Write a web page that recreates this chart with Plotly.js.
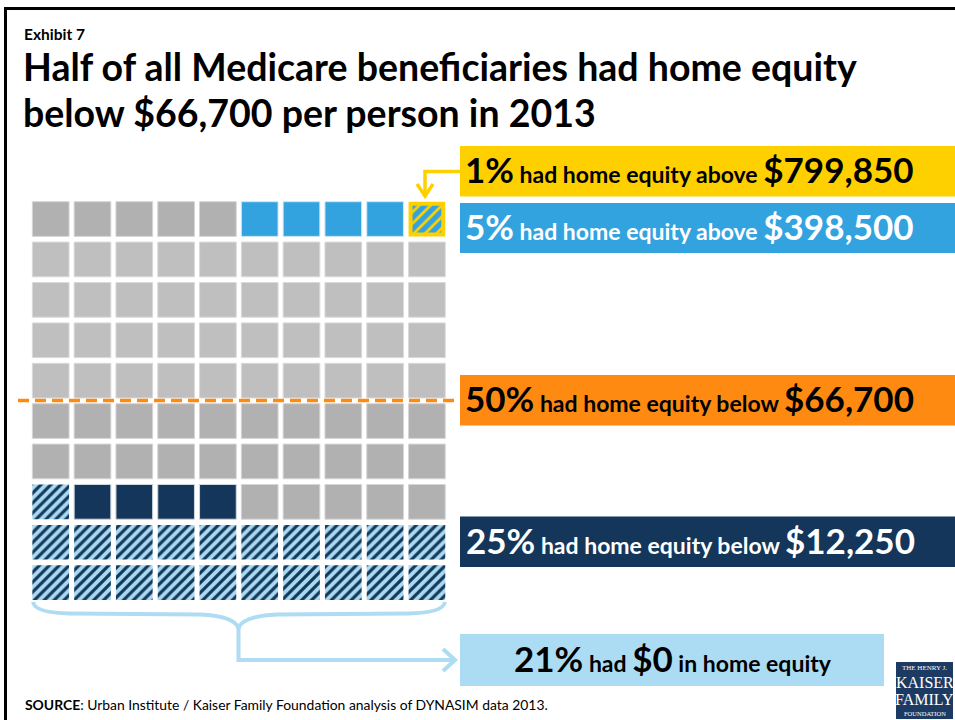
<!DOCTYPE html>
<html>
<head>
<meta charset="utf-8">
<script src="https://cdn.plot.ly/plotly-3.0.1.min.js"></script>
<style>html,body{margin:0;padding:0;background:#fff;}#chart{width:955px;height:720px;}</style>
</head>
<body>
<div id="chart"></div>
<script>
// ---- Data ----
const segmentNames = ["$0 home equity", "Up to $12,250", "$12,250 to $66,700", "$66,700 and up (middle)", "$66,700 and up (upper)", "Above $398,500", "Above $799,850"];
const segmentCounts = [21, 4, 25, 40, 5, 4, 1];   // cells out of 100, filled bottom-left first
const gridColumns = 10;
const gridRows = 10;

const calloutPercents = ["1%", "5%", "50%", "25%", "21%"];
const calloutPhrases = ["had home equity above", "had home equity above", "had home equity below", "had home equity below", "had"];
const calloutAmounts = ["$799,850", "$398,500", "$66,700", "$12,250", "$0"];

// ---- Styles ----
const W = 955, H = 720;
const px = x => x / W;
const py = y => 1 - y / H;
const FONT = "Lato, 'Open Sans', sans-serif";

const segStyles = [
  {color: "#a9daf2", pattern: {shape: "/", fgcolor: "#14375a", bgcolor: "#a9daf2", size: 7, solidity: 0.45, fillmode: "replace"}, line: {width: 0}},
  {color: "#14365a", line: {width: 1, color: "#cfd6dd"}},
  {color: "#b1b1b1", line: {width: 1, color: "#d6d6d6"}},
  {color: "#bfbfbf", line: {width: 1, color: "#dadada"}},
  {color: "#b1b1b1", line: {width: 1, color: "#d6d6d6"}},
  {color: "#33a3e0", line: {width: 1, color: "#cfe6f4"}},
  {color: "#33a3e0", pattern: {shape: "/", fgcolor: "#ffd000", bgcolor: "#33a3e0", size: 8, solidity: 0.35, fillmode: "replace"}, line: {width: 4, color: "#ffd000"}, yellow: true}
];

// grid geometry (pixels)
const pitchX = 41.8, pitchY = 40.4;
const cellW = 36.7, cellH = 34.7;
const col1Center = 50.7, row10Center = 582.65;   // bottom row center
const xLeft = col1Center - pitchX / 2, xRight = xLeft + pitchX * gridColumns;
const yBottom = row10Center + pitchY / 2, yTop = yBottom - pitchY * gridRows;

const traces = [];
let idx = 0;
segmentCounts.forEach((n, s) => {
  const xs = [], ys = [], bases = [];
  const st = segStyles[s];
  const wFrac = st.yellow ? (cellW - 4) / pitchX : cellW / pitchX;
  const hFrac = st.yellow ? (cellH - 4) / pitchY : cellH / pitchY;
  for (let k = 0; k < n; k++, idx++) {
    const row = Math.floor(idx / gridColumns) + 1;
    const col = (idx % gridColumns) + 1;
    xs.push(col);
    ys.push(hFrac);
    bases.push(row - hFrac / 2);
  }
  const marker = {color: st.color, line: st.line};
  if (st.pattern) marker.pattern = st.pattern;
  traces.push({
    type: "bar", name: segmentNames[s], x: xs, y: ys, base: bases,
    width: wFrac, marker: marker, hoverinfo: "name", showlegend: false
  });
});

// ---- Shapes ----
const shapes = [];
function rect(x0, y0, x1, y1, color) {
  shapes.push({type: "rect", xref: "paper", yref: "paper", x0: px(x0), x1: px(x1), y0: py(y1), y1: py(y0), fillcolor: color, line: {width: 0}, layer: "above"});
}
function rawPath(d, color, width) {
  shapes.push({type: "path", xref: "paper", yref: "paper", path: d, line: {color: color, width: width}, layer: "above"});
}
const P = (x, y) => px(x).toFixed(5) + "," + py(y).toFixed(5);

// frame
shapes.push({type: "line", xref: "paper", yref: "paper", x0: px(4), x1: 1, y0: py(8.5), y1: py(8.5), line: {color: "#000", width: 3}});
shapes.push({type: "line", xref: "paper", yref: "paper", x0: px(5.5), x1: px(5.5), y0: py(7), y1: 0, line: {color: "#000", width: 3}});

// callout boxes
const boxColors = ["#ffd000", "#33a3e0", "#ff8a12", "#14365a", "#acdcf3"];
const boxTextColors = ["#000", "#fff", "#000", "#fff", "#000"];
const boxes = [[460, 146, 955, 196.5], [460, 203, 955, 253], [460, 375, 955, 425.5], [460, 516.5, 955, 567], [460, 634, 884, 686]];
boxes.forEach((b, i) => rect(b[0], b[1], b[2], b[3], boxColors[i]));

// median dashed line
shapes.push({type: "line", xref: "paper", yref: "paper", x0: px(18), x1: px(460), y0: py(400.5), y1: py(400.5), line: {color: "#ff8a12", width: 3.5, dash: "11px,6px"}});

// yellow connector
rawPath("M" + P(460, 171.5) + " L" + P(425, 171.5) + " L" + P(425, 197), "#ffd000", 3.5);
rawPath("M" + P(417, 184) + " L" + P(425, 196) + " L" + P(433, 184), "#ffd000", 3.5);

// brace and arrow for 21%
rawPath("M" + P(33, 602) + " Q" + P(35, 613) + " " + P(70, 613.5) + " L" + P(200, 614.5) + " Q" + P(234, 616) + " " + P(238.5, 628) +
        " Q" + P(243, 616) + " " + P(277, 614.5) + " L" + P(408, 613.5) + " Q" + P(443, 613) + " " + P(445, 602), "#aedcf3", 4);
rawPath("M" + P(238.5, 626) + " L" + P(238.5, 660) + " L" + P(455, 660), "#aedcf3", 4);
rawPath("M" + P(443, 649) + " L" + P(455, 660) + " L" + P(443, 671), "#aedcf3", 4);

// logo
rect(896, 662, 953, 719, "#1d3a63");

// ---- Annotations ----
const ann = [];
function text(x, y, t, size, color, opts) {
  ann.push(Object.assign({xref: "paper", yref: "paper", x: px(x), y: py(y), text: t, showarrow: false,
    xanchor: "left", yanchor: "middle", font: {family: FONT, size: size, color: color, weight: 700}}, opts || {}));
}
text(22, 34, "Exhibit 7", 15.5, "#000");
text(21, 66.5, "Half of all Medicare beneficiaries had home equity", 37.5, "#000");
text(21, 112, "below $66,700 per person in 2013", 37.5, "#000");

const big = 35, small = 23;
const centers = [[689, 169], [689, 226], [689.5, 398], [690, 540], [672.5, 658]];
calloutPercents.forEach((p, i) => {
  let t = '<span style="font-size:' + big + 'px">' + p + '</span> ' + calloutPhrases[i] + ' <span style="font-size:' + big + 'px">' + calloutAmounts[i] + '</span>';
  if (i === 4) t += ' in home equity';
  text(centers[i][0], centers[i][1], t, small, boxTextColors[i], {xanchor: "center"});
});

// source
ann.push({xref: "paper", yref: "paper", x: px(23), y: py(704), xanchor: "left", yanchor: "middle", showarrow: false,
  text: "<b>SOURCE</b>: Urban Institute / Kaiser Family Foundation analysis of DYNASIM data 2013.",
  font: {family: FONT, size: 13.9, color: "#000"}});

// logo text
const serif = "'Liberation Serif', 'DejaVu Serif', serif";
const logoLines = [["THE HENRY J.", 7, 668], ["KAISER", 16, 682], ["FAMILY", 16, 699], ["FOUNDATION", 6.5, 713]];
logoLines.forEach(l => ann.push({xref: "paper", yref: "paper", x: px(924.5), y: py(l[2]), xanchor: "center", yanchor: "middle", showarrow: false,
  text: l[0], font: {family: serif, size: l[1], color: "#fff"}}));

const layout = {
  width: W, height: H, margin: {l: 0, r: 0, t: 0, b: 0}, paper_bgcolor: "#fff", plot_bgcolor: "rgba(0,0,0,0)",
  barmode: "overlay", showlegend: false,
  xaxis: {type: "linear", range: [0.5, gridColumns + 0.5], domain: [px(xLeft), px(xRight)], visible: false, fixedrange: true},
  yaxis: {type: "linear", range: [0.5, gridRows + 0.5], domain: [py(yBottom), py(yTop)], visible: false, fixedrange: true},
  shapes: shapes, annotations: ann
};
Plotly.newPlot("chart", traces, layout, {staticPlot: true, displayModeBar: false});
</script>
</body>
</html>
